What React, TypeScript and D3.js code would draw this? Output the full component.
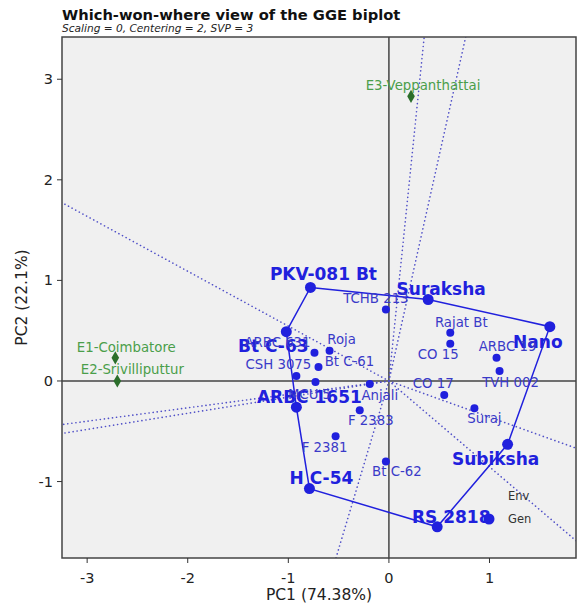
import React from "react";
import * as d3 from "d3";

// genotype scores (PC1, PC2)
const genNames = ["PKV-081 Bt", "Suraksha", "Nano", "Subiksha", "RS 2818", "H C-54", "ARBC 1651", "Bt C-63",
  "TCHB 213", "Roja", "ARBC 631", "Bt C-61", "CSH 3075", "MCU 5", "Anjali", "F 2383", "F 2381", "Bt C-62",
  "Rajat Bt", "CO 15", "ARBC 19", "TVH 002", "CO 17", "Suraj"];
const genPC1 = [-0.78, 0.39, 1.60, 1.18, 0.48, -0.79, -0.92, -1.02,
  -0.03, -0.59, -0.74, -0.70, -0.92, -0.73, -0.19, -0.29, -0.53, -0.03,
  0.61, 0.61, 1.07, 1.10, 0.55, 0.85];
const genPC2 = [0.93, 0.81, 0.54, -0.63, -1.45, -1.07, -0.26, 0.49,
  0.71, 0.30, 0.28, 0.14, 0.05, -0.01, -0.03, -0.29, -0.55, -0.80,
  0.48, 0.37, 0.23, 0.10, -0.14, -0.27];
// polygon vertices, in drawing order
const hullOrder = ["PKV-081 Bt", "Suraksha", "Nano", "Subiksha", "RS 2818", "H C-54", "ARBC 1651", "Bt C-63"];

// environment scores
const envNames = ["E1-Coimbatore", "E2-Srivilliputtur", "E3-Veppanthattai"];
const envPC1 = [-2.72, -2.70, 0.22];
const envPC2 = [0.23, 0.00, 2.83];

const xTicks = [-3, -2, -1, 0, 1];
const yTicks = [-1, 0, 1, 2, 3];

// label offsets in px: [dx, dy]
const labelOff: Record<string, [number, number]> = {
  "PKV-081 Bt": [13, -7], "Suraksha": [13, -5], "Nano": [-12, 21], "Subiksha": [-12, 21],
  "RS 2818": [14, -4], "H C-54": [12, -5], "ARBC 1651": [13, -4], "Bt C-63": [-13, 20],
  "TCHB 213": [-10, -7], "Roja": [12, -7], "ARBC 631": [-37, -6], "Bt C-61": [31, -1],
  "CSH 3075": [-18, -7], "MCU 5": [-6, 17], "Anjali": [10, 16], "F 2383": [11, 15],
  "F 2381": [-11, 16], "Bt C-62": [11, 15], "Rajat Bt": [11, -6], "CO 15": [-12, 15],
  "ARBC 19": [11, -7], "TVH 002": [11, 16], "CO 17": [-11, -7], "Suraj": [10, 15],
  "E1-Coimbatore": [11, -6], "E2-Srivilliputtur": [15, -7], "E3-Veppanthattai": [12, -6],
};

const W = 578, H = 609;
const m = { left: 62, top: 37, right: 576, bottom: 558 };
const font = "DejaVu Sans, sans-serif";
const blue = "#2020dd";
const blueLight = "#3a3ac8";
const green = "#4a9e4a";
const darkGreen = "#2b6e2b";

export default function App() {
  const x = d3.scaleLinear().domain([-3.25, 1.86]).range([m.left, m.right]);
  const y = d3.scaleLinear().domain([-1.76, 3.42]).range([m.bottom, m.top]);

  const gens = genNames.map((n, i) => ({ name: n, pc1: genPC1[i], pc2: genPC2[i], hull: hullOrder.includes(n) }));
  const hull = hullOrder.map(n => gens.find(g => g.name === n)!);

  const hullPath = d3.line<typeof gens[0]>().x(d => x(d.pc1)).y(d => y(d.pc2)).curve(d3.curveLinearClosed)(hull) || "";

  // rays from the origin, perpendicular to each side of the polygon
  const rays = hull.map((a, i) => {
    const b = hull[(i + 1) % hull.length];
    const dx = b.pc1 - a.pc1, dy = b.pc2 - a.pc2;
    const t = -(a.pc1 * dx + a.pc2 * dy) / (dx * dx + dy * dy);
    const fx = a.pc1 + t * dx, fy = a.pc2 + t * dy;
    const len = Math.hypot(fx, fy);
    return { x2: (fx / len) * 10, y2: (fy / len) * 10 };
  });

  const diamond = d3.symbol().type(d3.symbolDiamond).size(50)() || "";

  return (
    <svg width={W} height={H} style={{ position: "absolute", left: 0, top: 0, background: "#fff" }} fontFamily={font}>
      <defs>
        <clipPath id="plotclip">
          <rect x={m.left} y={m.top} width={m.right - m.left} height={m.bottom - m.top} />
        </clipPath>
      </defs>
      <text x={m.left} y={20} fontSize={14.7} fontWeight="bold" fill="#111">Which-won-where view of the GGE biplot</text>
      <text x={m.left} y={31.5} fontSize={10.6} fontStyle="italic" fill="#222">Scaling = 0, Centering = 2, SVP = 3</text>

      <rect x={m.left} y={m.top} width={m.right - m.left} height={m.bottom - m.top} fill="#f0f0f0" />

      <g clipPath="url(#plotclip)">
        <line x1={m.left} x2={m.right} y1={y(0)} y2={y(0)} stroke="#444" strokeWidth={1.5} />
        <line x1={x(0)} x2={x(0)} y1={m.top} y2={m.bottom} stroke="#444" strokeWidth={1.5} />
        {rays.map((r, i) => (
          <line key={i} x1={x(0)} y1={y(0)} x2={x(r.x2)} y2={y(r.y2)} stroke="#5050c8" strokeWidth={1.6}
            strokeDasharray="0.1 4" strokeLinecap="round" />
        ))}
        <path d={hullPath} fill="none" stroke={blue} strokeWidth={1.5} />
        {gens.map(g => (
          <circle key={g.name} cx={x(g.pc1)} cy={y(g.pc2)} r={g.hull ? 5.5 : 4} fill={blue} />
        ))}
        {envNames.map((n, i) => (
          <path key={n} d={diamond} transform={`translate(${x(envPC1[i])},${y(envPC2[i])})`} fill={darkGreen} />
        ))}
        {envNames.map((n, i) => (
          <text key={n} x={x(envPC1[i]) + labelOff[n][0]} y={y(envPC2[i]) + labelOff[n][1]} textAnchor="middle"
            fontSize={13.3} fill={green}>{n}</text>
        ))}
        {gens.map(g => (
          <text key={g.name} x={x(g.pc1) + labelOff[g.name][0]} y={y(g.pc2) + labelOff[g.name][1]} textAnchor="middle"
            fontSize={g.hull ? 17 : 13.3} fontWeight={g.hull ? "bold" : "normal"} fill={g.hull ? blue : blueLight}>{g.name}</text>
        ))}
        <text x={508} y={500} fontSize={11.5} fill="#333">Env</text>
        <circle cx={489} cy={519} r={5.5} fill={blue} />
        <text x={508} y={523} fontSize={11.5} fill="#333">Gen</text>
      </g>

      <rect x={m.left} y={m.top} width={m.right - m.left} height={m.bottom - m.top} fill="none" stroke="#444" strokeWidth={1.5} />

      {xTicks.map(t => (
        <g key={t} transform={`translate(${x(t)},${m.bottom})`}>
          <line y2={5} stroke="#333" strokeWidth={1} />
          <text y={25} textAnchor="middle" fontSize={14.5} fill="#222">{t}</text>
        </g>
      ))}
      {yTicks.map(t => (
        <g key={t} transform={`translate(${m.left},${y(t)})`}>
          <line x2={-5} stroke="#333" strokeWidth={1} />
          <text x={-9} dy="0.35em" textAnchor="end" fontSize={14.5} fill="#222">{t}</text>
        </g>
      ))}
      <text x={(m.left + m.right) / 2} y={600} textAnchor="middle" fontSize={15.5} fill="#222">PC1 (74.38%)</text>
      <text transform={`translate(27,${(m.top + m.bottom) / 2}) rotate(-90)`} textAnchor="middle" fontSize={15.5} fill="#222">PC2 (22.1%)</text>
    </svg>
  );
}
